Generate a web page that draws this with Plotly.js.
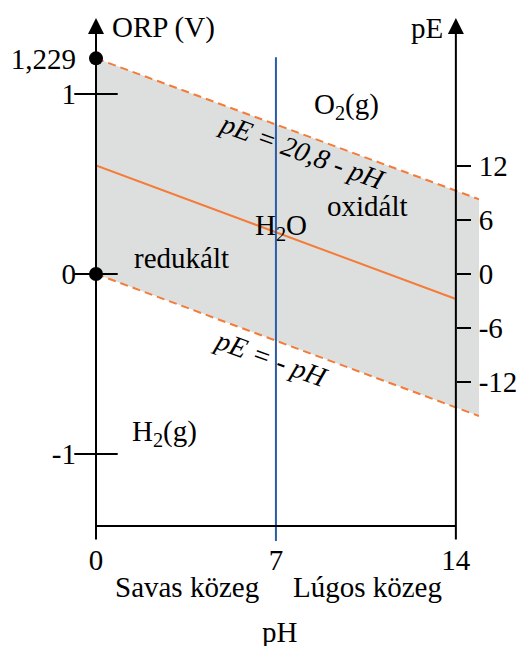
<!DOCTYPE html>
<html>
<head>
<meta charset="utf-8">
<script src="https://cdn.plot.ly/plotly-3.0.1.min.js"></script>
<style>
  html, body { margin: 0; padding: 0; background: #fff; }
  #plot { width: 517px; height: 646px; }
</style>
</head>
<body>
<div id="plot"></div>
<script>
// pH axis and the two scales
const phTicks = [0, 7, 14];
const orpTicks = [1.198, 1, 0, -1];
const orpTickText = ['1,229', '1', '0', '-1'];
const peTicks = [12, 6, 0, -6, -12];
const peTickText = ['12', '6', '0', '-6', '-12'];
const PE_PER_VOLT = 20;

// stability lines of water
const upperPH = [0, 14.9];
const upperORP = [1.198, 0.4155];
const lowerPH = [0, 14.9];
const lowerORP = [0, -0.789];
const midPH = [0, 14];
const midORP = [0.603, -0.139];
const dotsPH = [0, 0];
const dotsORP = [1.198, 0];

const yMin = -1.4833, yMax = 1.4222;
const baseORP = -1.40;
const neutralTop = 1.204;

const FONT = 'Liberation Serif, Times New Roman, serif';
const FS = 29;
const ORANGE = '#f47b38';
const BLUE = '#2a5ca8';

const traceFill = {
  x: upperPH.concat(lowerPH.slice().reverse()),
  y: upperORP.concat(lowerORP.slice().reverse()),
  type: 'scatter', mode: 'lines', fill: 'toself',
  fillcolor: '#dddfde', line: { width: 0 }, hoverinfo: 'skip'
};
const traceUpper = { x: upperPH, y: upperORP, type: 'scatter', mode: 'lines',
  line: { color: ORANGE, width: 2, dash: '8px,5px' } };
const traceLower = { x: lowerPH, y: lowerORP, type: 'scatter', mode: 'lines',
  line: { color: ORANGE, width: 2, dash: '8px,5px' } };
const traceMid = { x: midPH, y: midORP, type: 'scatter', mode: 'lines',
  line: { color: ORANGE, width: 2 } };
const traceNeutral = { x: [7, 7], y: [neutralTop, yMin], type: 'scatter', mode: 'lines',
  line: { color: BLUE, width: 2 } };
const traceBase = { x: [phTicks[0], phTicks[2]], y: [baseORP, baseORP], type: 'scatter', mode: 'lines',
  line: { color: 'black', width: 2 } };
const traceTickMarks = { x: [0, 0, 0], y: orpTicks.slice(1), type: 'scatter', mode: 'markers',
  cliponaxis: false,
  marker: { symbol: 'line-ew-open', size: 31, color: 'black', line: { color: 'black', width: 2 } } };
const traceDots = { x: dotsPH, y: dotsORP, type: 'scatter', mode: 'markers', cliponaxis: false,
  marker: { color: 'black', size: 14 } };
const tracePE = { x: [14], y: [0], yaxis: 'y2', type: 'scatter', mode: 'markers',
  marker: { opacity: 0 }, hoverinfo: 'skip' };

const txt = (text, x, y, extra) => Object.assign({
  text: text, x: x, y: y, xref: 'x', yref: 'y', showarrow: false,
  xanchor: 'center', yanchor: 'middle',
  font: { family: FONT, size: FS, color: 'black' }
}, extra || {});

const axisArrow = (x) => ({
  text: '', x: x, y: yMax, ax: x, ay: yMin, xref: 'x', yref: 'y', axref: 'x', ayref: 'y',
  showarrow: true, arrowhead: 2, arrowsize: 1.6, arrowwidth: 2, arrowcolor: 'black',
  standoff: 0, startstandoff: 0
});

const annotations = [
  axisArrow(0),
  axisArrow(14),
  txt('ORP (V)', 0.55, 1.367, { xanchor: 'left' }),
  txt('pE', 13.58, 1.364, { xanchor: 'right' }),
  txt('O<sub>2</sub>(g)', 9.73, 0.933),
  txt('<i>pE = 20,8 - pH</i>', 8.02, 0.678, { textangle: 20, font: { family: FONT, size: 28, color: 'black' } }),
  txt('oxidált', 10.58, 0.378),
  txt('H<sub>2</sub>O', 7.2, 0.261),
  txt('redukált', 3.31, 0.089),
  txt('<i>pE = - pH</i>', 6.81, -0.467, { textangle: 20, font: { family: FONT, size: 28, color: 'black' } }),
  txt('H<sub>2</sub>(g)', 2.68, -0.883),
  txt('Savas közeg', 3.54, -0.0889, { yref: 'paper' }),
  txt('Lúgos közeg', 10.58, -0.0889, { yref: 'paper' }),
  txt('pH', 7.16, -0.174, { yref: 'paper' })
];

const layout = {
  width: 517, height: 646,
  margin: { l: 96, r: 38, t: 18, b: 105 },
  paper_bgcolor: 'white', plot_bgcolor: 'white',
  showlegend: false,
  font: { family: FONT, size: FS, color: 'black' },
  xaxis: {
    range: [0, 14.9], showgrid: false, zeroline: false, showline: false,
    tickvals: phTicks, ticks: '', ticklabelstandoff: -1,
    tickfont: { family: FONT, size: FS, color: 'black' }
  },
  yaxis: {
    range: [yMin, yMax], showgrid: false, zeroline: false, showline: false,
    tickvals: orpTicks, ticktext: orpTickText, ticks: '', ticklabelstandoff: 19,
    tickfont: { family: FONT, size: FS, color: 'black' }
  },
  yaxis2: {
    overlaying: 'y', side: 'right', anchor: 'free', position: 14 / 14.9,
    range: [yMin * PE_PER_VOLT, yMax * PE_PER_VOLT],
    showgrid: false, zeroline: false, showline: false,
    tickvals: peTicks, ticktext: peTickText, ticks: 'outside', ticklen: 14, tickwidth: 2, tickcolor: 'black',
    ticklabelstandoff: 2,
    tickfont: { family: FONT, size: FS, color: 'black' }
  },
  annotations: annotations
};

Plotly.newPlot('plot', [
  traceFill, traceUpper, traceLower, traceMid, traceNeutral, traceBase,
  traceTickMarks, traceDots, tracePE
], layout, { displayModeBar: false, staticPlot: true });
</script>
</body>
</html>
